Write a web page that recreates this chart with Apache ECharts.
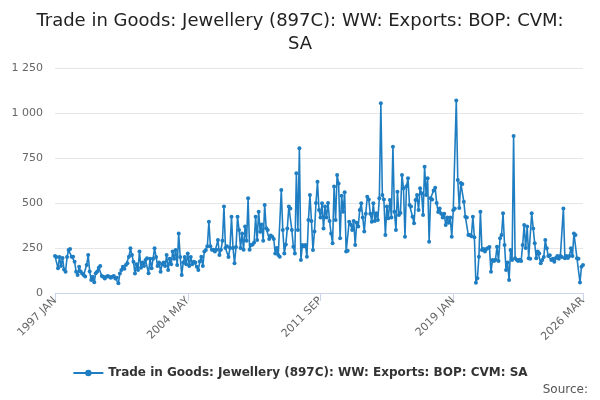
<!DOCTYPE html>
<html>
<head>
<meta charset="utf-8">
<script src="https://cdn.jsdelivr.net/npm/echarts@6/dist/echarts.min.js"></script>
<style>
  html, body { margin: 0; padding: 0; background: #fff; }
  #main { width: 600px; height: 400px; }
</style>
</head>
<body>
<div id="main"></div>
<script>
// 月份标签 1997 JAN .. 2026 MAR
var monthNames = ['JAN', 'FEB', 'MAR', 'APR', 'MAY', 'JUN', 'JUL', 'AUG', 'SEP', 'OCT', 'NOV', 'DEC'];
var firstYear = 1997;
var pointCount = 351;
var labelStep = 88;
var yTicks = [0, 250, 500, 750, 1000, 1250];

var exportsVals = [
    205, 200, 137, 200, 150, 195, 130, 118, 200, 239, 244, 202,
    202, 174, 118, 100, 146, 120, 109, 100, 91, 156, 211, 120,
    72, 90, 60, 110, 120, 140, 150, 95, 90, 81, 90, 95,
    90, 85, 90, 95, 81, 85, 54, 109, 128, 146, 135, 156,
    165, 202, 248, 211, 174, 109, 160, 128, 230, 140, 170, 150,
    183, 193, 110, 190, 137, 190, 248, 200, 150, 170, 118, 160,
    170, 150, 211, 128, 190, 160, 230, 190, 239, 156, 331, 200,
    100, 170, 200, 160, 220, 150, 200, 160, 174, 170, 146, 128,
    175, 202, 150, 230, 239, 260, 396, 260, 240, 240, 230, 240,
    294, 211, 240, 290, 480, 250, 260, 200, 250, 424, 250, 165,
    255, 424, 350, 250, 330, 240, 369, 290, 526, 240, 267, 270,
    280, 424, 294, 452, 340, 380, 290, 489, 360, 350, 300, 320,
    313, 300, 220, 250, 211, 202, 572, 350, 220, 270, 359, 480,
    470, 350, 257, 220, 665, 350, 804, 183, 267, 260, 267, 202,
    406, 544, 400, 239, 341, 500, 618, 461, 420, 498, 359, 480,
    420, 500, 400, 331, 276, 591, 406, 656, 609, 304, 540, 452,
    560, 230, 235, 396, 380, 350, 400, 267, 390, 370, 461, 498,
    420, 341, 440, 535, 520, 440, 396, 498, 400, 443, 406, 526,
    1054, 544, 520, 322, 480, 415, 517, 420, 813, 452, 350, 563,
    433, 445, 656, 582, 313, 593, 637, 489, 480, 424, 387, 517,
    544, 461, 582, 554, 433, 702, 544, 637, 285, 526, 520, 570,
    585, 500, 450, 470, 440, 420, 440, 378, 420, 390, 420, 313,
    460, 470, 1070, 628, 472, 611, 605, 507, 424, 420, 322, 322,
    315, 424, 310, 57, 82, 202, 452, 239, 245, 230, 245, 250,
    255, 118, 183, 178, 185, 257, 178, 304, 322, 443, 267, 128,
    170, 72, 239, 183, 872, 193, 185, 178, 185, 178, 267, 378,
    250, 370, 193, 190, 443, 359, 276, 193, 230, 220, 165, 183,
    200, 294, 248, 205, 210, 183, 190, 174, 195, 205, 190, 205,
    200, 470, 193, 205, 195, 205, 248, 205, 331, 322, 193, 190,
    59, 146, 156
];

var seriesName = 'Trade in Goods: Jewellery (897C): WW: Exports: BOP: CVM: SA';

var categories = [];
for (var i = 0; i < pointCount; i++) {
    categories.push((firstYear + Math.floor(i / 12)) + ' ' + monthNames[i % 12]);
}

// 每 88 个月一个标签，最后一个月也显示
function showTick(index) {
    return index % labelStep === 0 || index === pointCount - 1;
}

var myChart = echarts.init(document.getElementById('main'));
var option = {
    animation: false,
    title: {
        text: 'Trade in Goods: Jewellery (897C): WW: Exports: BOP: CVM:\nSA',
        left: 'center',
        top: 5,
        textStyle: {
            fontFamily: 'DejaVu Sans',
            fontSize: 18,
            fontWeight: 'normal',
            color: '#222',
            lineHeight: 23
        }
    },
    legend: {
        data: [seriesName],
        bottom: 16,
        left: 'center',
        itemWidth: 30,
        itemHeight: 8,
        textStyle: {
            fontFamily: 'DejaVu Sans',
            fontSize: 12,
            fontWeight: 'bold',
            color: '#333'
        }
    },
    graphic: [{
        type: 'text',
        right: 12,
        bottom: 4,
        style: {
            text: 'Source:',
            font: '12px DejaVu Sans',
            fill: '#555'
        }
    }],
    grid: {
        left: 55,
        right: 17,
        top: 68,
        bottom: 107,
        containLabel: false
    },
    xAxis: {
        type: 'category',
        data: categories,
        boundaryGap: false,
        axisLine: { lineStyle: { color: '#ccd6eb' } },
        axisTick: { show: true, interval: showTick, length: 8, lineStyle: { color: '#ccd6eb' } },
        axisLabel: {
            interval: showTick,
            rotate: 45,
            fontFamily: 'DejaVu Sans',
            fontSize: 11,
            color: '#666',
            margin: 6
        },
        splitLine: { show: false }
    },
    yAxis: {
        type: 'value',
        min: yTicks[0],
        max: yTicks[yTicks.length - 1],
        interval: 250,
        axisLine: { show: false },
        axisTick: { show: false },
        axisLabel: {
            fontFamily: 'DejaVu Sans',
            fontSize: 11,
            color: '#666',
            margin: 12,
            formatter: function (v) {
                return String(v).replace(/\B(?=(\d{3})+(?!\d))/g, ' ');
            }
        },
        splitLine: { lineStyle: { color: '#e6e6e6' } }
    },
    series: [{
        name: seriesName,
        type: 'line',
        data: exportsVals,
        symbol: 'circle',
        symbolSize: 4,
        showAllSymbol: true,
        color: '#1f7ec2',
        lineStyle: { width: 1.6, color: '#1f7ec2' },
        itemStyle: { color: '#1f7ec2' }
    }]
};
myChart.setOption(option);
</script>
</body>
</html>
